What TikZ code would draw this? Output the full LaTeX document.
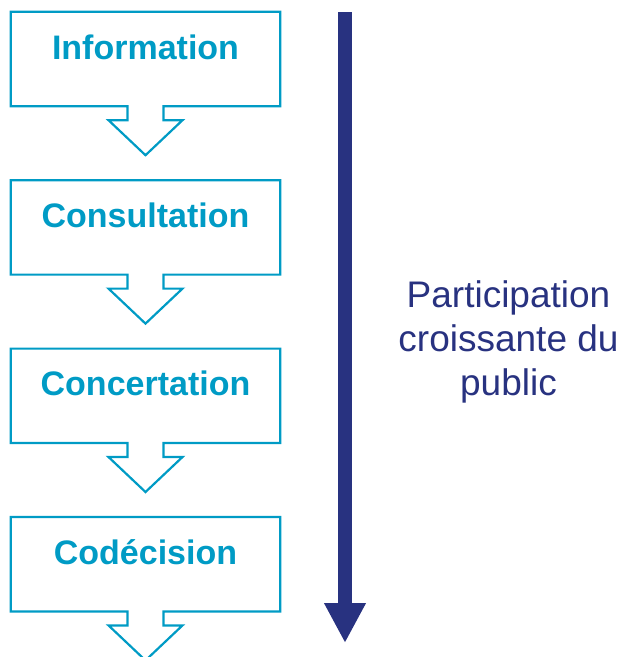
\documentclass[tikz,border=0pt]{standalone}
\usepackage{fontspec}
\setmainfont{Liberation Sans}
\usetikzlibrary{positioning,arrows.meta}

\definecolor{stepcyan}{RGB}{0,155,197}
\definecolor{flownavy}{RGB}{40,50,128}

\tikzset{
	stepbox/.style={rectangle, inner sep=0pt, minimum width=269pt,
		text height=47pt, text depth=47pt, text=stepcyan,
		font=\fontsize{34}{40}\selectfont\bfseries},
	callout/.style={draw=stepcyan, line width=2.2pt, line join=miter},
}

\begin{document}
\begin{tikzpicture}[x=1pt,y=-1pt]
		\useasboundingbox (0,0) rectangle (628,657);
		% the four steps, one under the other
		\node[stepbox] (info) at (145.5,59) {Information};
		\node[stepbox, below=74pt of info] (consult) {Consultation};
		\node[stepbox, below=74pt of consult] (concert) {Concertation};
		\node[stepbox, below=74pt of concert] (codec) {Codécision};
		% box outline with its hollow arrow underneath
		\draw[callout] (info.south west) |- (info.north east) |- ([xshift=18pt]info.south)
			-- ++(0,14) -- ++(19,0) -- ++(-37,35) -- ++(-37,-35) -- ++(19,0) -- ++(0,-14) -- cycle;
		\draw[callout] (consult.south west) |- (consult.north east) |- ([xshift=18pt]consult.south)
			-- ++(0,14) -- ++(19,0) -- ++(-37,35) -- ++(-37,-35) -- ++(19,0) -- ++(0,-14) -- cycle;
		\draw[callout] (concert.south west) |- (concert.north east) |- ([xshift=18pt]concert.south)
			-- ++(0,14) -- ++(19,0) -- ++(-37,35) -- ++(-37,-35) -- ++(19,0) -- ++(0,-14) -- cycle;
		\draw[callout] (codec.south west) |- (codec.north east) |- ([xshift=18pt]codec.south)
			-- ++(0,14) -- ++(19,0) -- ++(-37,35) -- ++(-37,-35) -- ++(19,0) -- ++(0,-14) -- cycle;
		% big arrow on the right
		\coordinate (start) at (345,12);
		\coordinate (finish) at (345,643);
		\draw[flownavy, line width=14pt, -{Triangle[length=40pt,width=39pt]}] (start) -- (finish);
		\node[text=flownavy, align=center, anchor=base, font=\fontsize{37}{44}\selectfont] (part) at (508.5,395)
			{Participation\\croissante du\\public};
\end{tikzpicture}
\end{document}
